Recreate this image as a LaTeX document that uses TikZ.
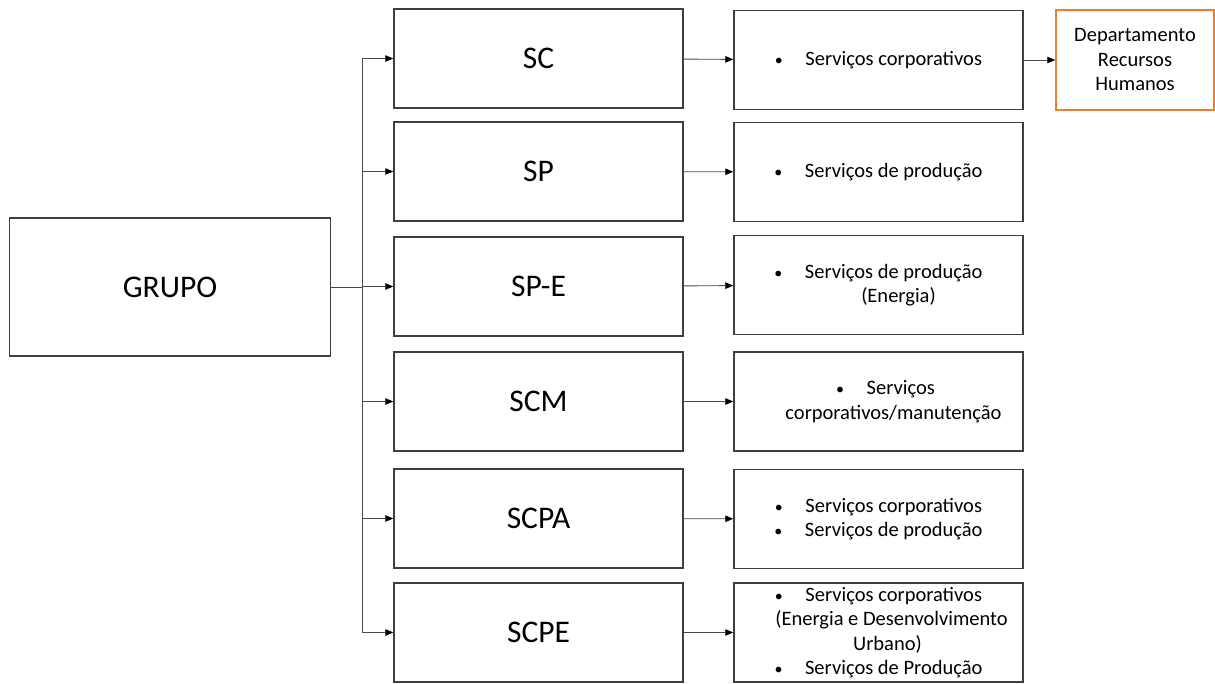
\documentclass[tikz,border=0pt]{standalone}
\usepackage{fontspec}
\setmainfont{Carlito}
\usetikzlibrary{arrows.meta,positioning}
\definecolor{edge}{HTML}{3F3F3F}
\definecolor{wire}{HTML}{4A4A4A}
\definecolor{accent}{HTML}{ED7D31}
\newcommand{\blt}{{\fontsize{16}{16}\selectfont\textbullet}\hspace{1.1em}}

\begin{document}
\begin{tikzpicture}[
    x=1pt, y=-1pt,
    box/.style={draw=edge, line width=1.5pt, align=center, inner sep=2pt, minimum width=289pt, minimum height=99pt, font=\fontsize{31.5}{34}\selectfont},
    item/.style={box, font=\fontsize{20.5}{24.5}\selectfont},
    dept/.style={item, draw=accent, minimum width=158pt, minimum height=100pt},
    arrow/.style={-{Triangle[length=8pt,width=6.5pt,color=black]}, line width=0.9pt, draw=wire}
]
\useasboundingbox (0,0) rectangle (1215,684);

\node[box, minimum width=321pt, minimum height=138pt] (grupo) at (170,287) {GRUPO};

% left column
\node[box] (sc)   at (538.5,58.5)  {SC};
\node[box] (sp)   at (538.5,171.5) {SP};
\node[box] (spe)  at (538.5,286.5) {SP-E};
\node[box] (scm)  at (538.5,401.5) {SCM};
\node[box] (scpa) at (538.5,518.5) {SCPA};
\node[box] (scpe) at (538.5,632.5) {SCPE};

% right column
\node[item] (scd)   at (878.5,60)  {\blt Serviços corporativos};
\node[item] (spd)   at (878.5,172) {\blt Serviços de produção};
\node[item] (sped)  at (878.5,285) {\blt Serviços de produção\\\hspace*{40pt}(Energia)};
\node[item] (scmd)  at (878.5,401.5) {\hspace*{14pt}\blt Serviços\\\hspace*{30pt}corporativos/manutenção};
\node[item] (scpad) at (878.5,519) {\blt Serviços corporativos\\\blt Serviços de produção};
\node[item, inner sep=0pt] (scped) at (878.5,632.5) {\blt Serviços corporativos\\\hspace*{26pt}(Energia e Desenvolvimento\\\hspace*{18pt}Urbano)\\\blt Serviços de Produção};

\node[dept] (rh) at (1135,60) {Departamento\\Recursos\\Humanos};

% connectors
\coordinate (split) at (362,287);
\draw[draw=wire, line width=0.9pt] (grupo.east) -- (split);
\foreach \n in {sc,sp,spe,scm,scpa,scpe}
    \draw[arrow] (split) |- (\n.west);

\draw[arrow] (sc)   -- (scd);
\draw[arrow] (sp)   -- (spd);
\draw[arrow] (spe)  -- (sped);
\draw[arrow] (scm)  -- (scmd);
\draw[arrow] (scpa) -- (scpad);
\draw[arrow] (scpe) -- (scped);
\draw[arrow] (scd)  -- (rh);
\end{tikzpicture}
\end{document}
